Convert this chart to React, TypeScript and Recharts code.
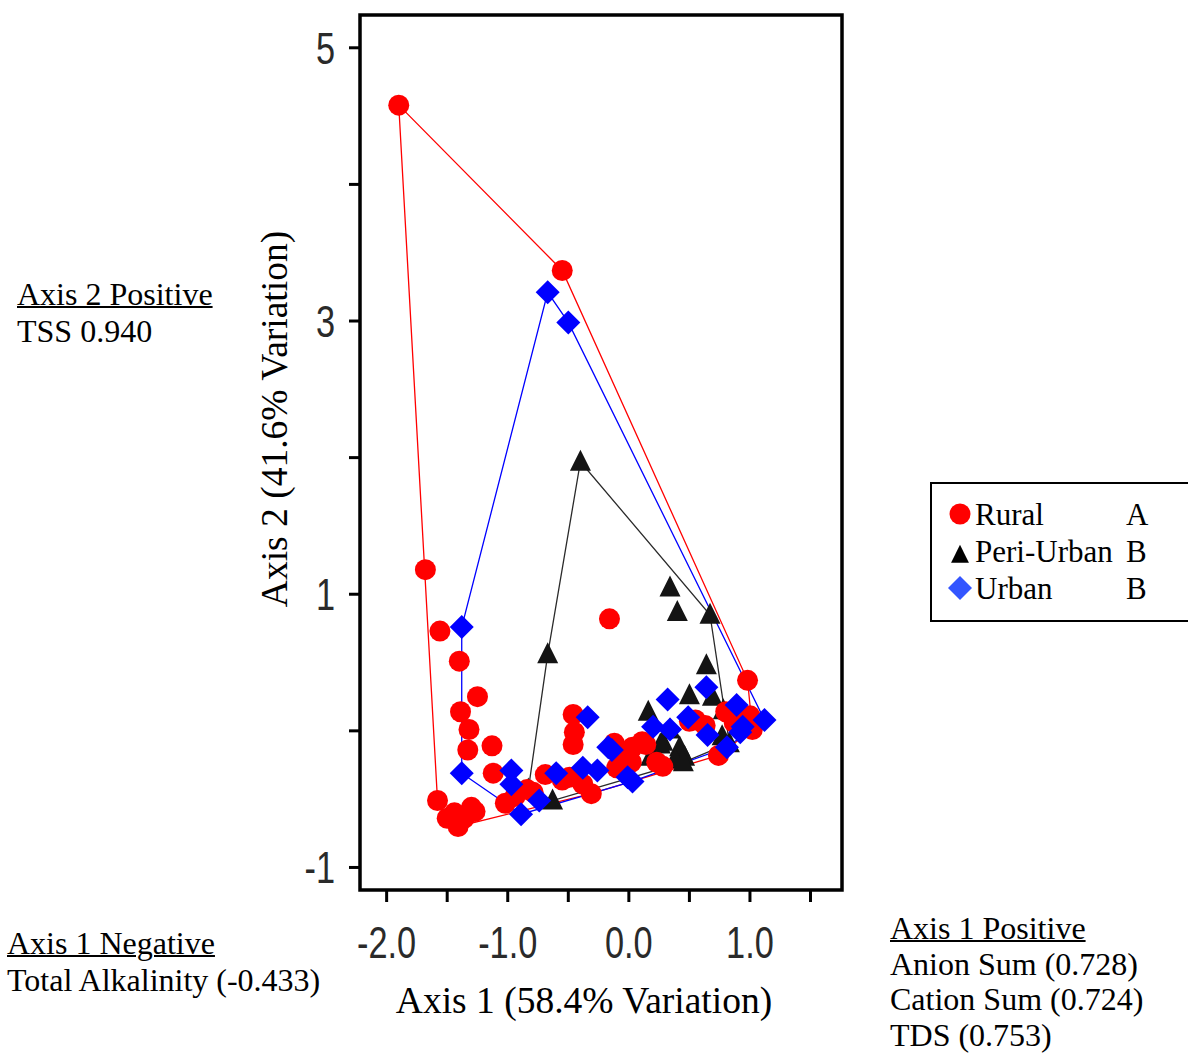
import React from "react";
import { ScatterChart, Scatter, XAxis, YAxis, ReferenceArea } from "recharts";

type Pt = [number, number];

// PCA site scores (Axis 1, Axis 2)
const rural: Pt[] = [
  [-1.9, 4.58], [-0.55, 3.37], [-1.68, 1.18], [-1.56, 0.73], [-1.4, 0.51], [-1.25, 0.25],
  [-1.39, 0.14], [-1.32, 0.01], [-1.33, -0.14], [-1.13, -0.11], [-1.12, -0.31], [-0.16, 0.82],
  [0.98, 0.37], [-1.58, -0.51], [-1.5, -0.64], [-1.36, -0.64], [-1.41, -0.7], [-1.27, -0.59],
  [-1.02, -0.53], [-0.94, -0.48], [-0.79, -0.45], [-0.46, 0.12], [-0.45, -0.01], [-0.46, -0.1],
  [-0.49, -0.34], [-0.38, -0.39], [-0.31, -0.46], [-0.55, -0.36], [-0.12, -0.09], [-0.04, -0.21],
  [0.02, -0.23], [0.14, -0.1], [0.28, -0.26], [0.8, 0.14], [0.87, 0.06], [0.74, -0.18],
  [0.63, 0.04], [1.0, 0.11], [1.02, 0.01], [-0.1, -0.27], [0.23, -0.23], [0.5, 0.07],
  [-0.69, -0.32], [-0.84, -0.43], [-1.44, -0.6], [-1.3, -0.56], [0.03, -0.12], [0.11, -0.08],
  [0.55, 0.08], [0.86, 0.12], [-0.08, -0.26],
];

const periUrban: Pt[] = [
  [-0.4, 1.97], [-0.67, 0.56], [0.34, 1.05], [0.4, 0.87], [0.67, 0.85], [0.64, 0.48],
  [-0.83, -0.43], [-0.63, -0.51], [0.16, 0.14], [0.5, 0.26], [0.69, 0.25], [0.26, -0.1],
  [0.42, -0.12], [0.46, -0.19], [0.77, -0.04], [0.34, 0.01], [0.18, -0.19], [0.38, -0.21],
  [0.83, -0.09], [0.28, -0.08], [0.45, -0.23], [0.78, 0.15],
];

const urban: Pt[] = [
  [-0.67, 3.21], [-0.5, 2.99], [-1.38, 0.76], [-1.38, -0.31], [-0.34, 0.1], [-0.14, -0.14],
  [-0.97, -0.29], [-0.97, -0.39], [-0.74, -0.51], [-0.89, -0.61], [-0.6, -0.31], [-0.38, -0.27],
  [-0.26, -0.29], [-0.01, -0.34], [0.32, 0.23], [0.2, 0.03], [0.34, 0.01], [0.64, 0.32],
  [0.65, -0.03], [0.89, 0.19], [0.94, 0.03], [1.12, 0.08], [-0.17, -0.12], [0.03, -0.37],
  [0.49, 0.1], [0.81, -0.12], [0.92, -0.01],
];

const xTicks = [-2, -1.5, -1, -0.5, 0, 0.5, 1, 1.5];
const yTicks = [-1, 0, 1, 2, 3, 4, 5];
const xDomain: [number, number] = [-2.22, 1.76];
const yDomain: [number, number] = [-1.165, 5.24];

const groups = [
  { name: "Rural", letter: "A", color: "#ff0000", legendColor: "#ff0000", hullColor: "#ff0000", shape: "circle", points: rural },
  { name: "Peri-Urban", letter: "B", color: "#141414", legendColor: "#000000", hullColor: "#2a2a2a", shape: "triangle", points: periUrban },
  { name: "Urban", letter: "B", color: "#0000ff", legendColor: "#3355ff", hullColor: "#0000ff", shape: "diamond", points: urban },
];

const notesLeftTop = ["Axis 2 Positive", "TSS 0.940"];
const notesLeftBottom = ["Axis 1 Negative", "Total Alkalinity (-0.433)"];
const notesRight = ["Axis 1 Positive", "Anion Sum (0.728)", "Cation Sum (0.724)", "TDS (0.753)"];

const serif = "'Liberation Serif', 'Times New Roman', serif";
const sans = "'Liberation Sans', Arial, sans-serif";

function convexHull(pts: Pt[]): Pt[] {
  const s = [...pts].sort((a, b) => a[0] - b[0] || a[1] - b[1]);
  const cross = (o: Pt, a: Pt, b: Pt) => (a[0] - o[0]) * (b[1] - o[1]) - (a[1] - o[1]) * (b[0] - o[0]);
  const lower: Pt[] = [];
  for (const p of s) {
    while (lower.length >= 2 && cross(lower[lower.length - 2], lower[lower.length - 1], p) <= 0) lower.pop();
    lower.push(p);
  }
  const upper: Pt[] = [];
  for (const p of [...s].reverse()) {
    while (upper.length >= 2 && cross(upper[upper.length - 2], upper[upper.length - 1], p) <= 0) upper.pop();
    upper.push(p);
  }
  upper.pop();
  lower.pop();
  const h = lower.concat(upper);
  return [...h, h[0]];
}

function Marker({ shape, cx, cy, fill, size = 1 }: any) {
  if (shape === "circle") return <circle cx={cx} cy={cy} r={10.5 * size} fill={fill} />;
  if (shape === "triangle") {
    const w = 10.5 * size;
    return <polygon points={`${cx},${cy - 12 * size} ${cx - w},${cy + 9 * size} ${cx + w},${cy + 9 * size}`} fill={fill} />;
  }
  const d = 12 * size;
  return <polygon points={`${cx},${cy - d} ${cx + d},${cy} ${cx},${cy + d} ${cx - d},${cy}`} fill={fill} />;
}

function XTick({ x, y, payload }: any) {
  if (!Number.isInteger(payload.value)) return null;
  return (
    <text transform={`translate(${x},${y}) scale(0.78,1)`} textAnchor="middle" dy="0.72em"
      fontFamily={sans} fontSize={44} fill="#2a2a2a">
      {payload.value.toFixed(1)}
    </text>
  );
}

function YTick({ x, y, payload }: any) {
  if (payload.value % 2 === 0) return null;
  return (
    <text transform={`translate(${x},${y}) scale(0.78,1)`} textAnchor="end" dy="0.36em"
      fontFamily={sans} fontSize={44} fill="#2a2a2a">
      {payload.value}
    </text>
  );
}

function XTitle() {
  return (
    <text x={584} y={1013} textAnchor="middle" fontFamily={serif} fontSize={37.5} fill="#000">
      Axis 1 (58.4% Variation)
    </text>
  );
}

function YTitle() {
  return (
    <text transform="translate(287,419) rotate(-90)" textAnchor="middle" fontFamily={serif} fontSize={37.5} fill="#000">
      Axis 2 (41.6% Variation)
    </text>
  );
}

function LegendBox() {
  return (
    <div style={{ position: "absolute", left: 930, top: 482, width: 256, height: 136, border: "2px solid #000",
      background: "#fff", fontFamily: serif, fontSize: 31, color: "#000" }}>
      {groups.map((g, i) => (
        <div key={g.name} style={{ position: "absolute", left: 0, top: 12 + i * 37, height: 37, width: 256, lineHeight: "37px" }}>
          <svg width={30} height={37} style={{ position: "absolute", left: 14, top: 0 }}>
            <Marker shape={g.shape} cx={14} cy={g.shape === "triangle" ? 22 : 18} fill={g.legendColor}
              size={g.shape === "triangle" ? 0.85 : 1} />
          </svg>
          <span style={{ position: "absolute", left: 43 }}>{g.name}</span>
          <span style={{ position: "absolute", left: 194 }}>{g.letter}</span>
        </div>
      ))}
    </div>
  );
}

function Note({ lines, left, top, lh = 36.5 }: { lines: string[]; left: number; top: number; lh?: number }) {
  return (
    <div style={{ position: "absolute", left, top, fontFamily: serif, fontSize: 32, lineHeight: `${lh}px`, color: "#000", whiteSpace: "nowrap" }}>
      {lines.map((t, i) => (
        <div key={t} style={{ textDecoration: i === 0 ? "underline" : "none", textDecorationThickness: 2 }}>{t}</div>
      ))}
    </div>
  );
}

export default function App() {
  return (
    <div style={{ position: "absolute", left: 0, top: 0, width: 1188, height: 1055, background: "#fff", overflow: "hidden" }}>
      <ScatterChart width={1188} height={1055} margin={{ top: 15, right: 346, bottom: 105, left: 240 }}>
        <XAxis type="number" dataKey="x" domain={xDomain} ticks={xTicks} interval={0} allowDataOverflow
          axisLine={false} tickSize={12} tickMargin={24} tickLine={{ stroke: "#000", strokeWidth: 3 }}
          tick={<XTick />} height={60} label={<XTitle />} />
        <YAxis type="number" dataKey="y" domain={yDomain} ticks={yTicks} interval={0} allowDataOverflow
          axisLine={false} tickSize={11} tickMargin={14} tickLine={{ stroke: "#000", strokeWidth: 3 }}
          tick={<YTick />} width={120} label={<YTitle />} />
        {groups.map((g) => (
          <Scatter key={g.name + "-hull"} data={convexHull(g.points).map(([x, y]) => ({ x, y }))}
            line={{ stroke: g.hullColor, strokeWidth: 1.3 }} lineType="joint" shape={() => <g />}
            legendType="none" isAnimationActive={false} />
        ))}
        {[groups[1], groups[0], groups[2]].map((g) => (
          <Scatter key={g.name} name={g.name} data={g.points.map(([x, y]) => ({ x, y }))}
            shape={(p: any) => <Marker shape={g.shape} cx={p.cx} cy={p.cy} fill={g.color} />}
            isAnimationActive={false} />
        ))}
        <ReferenceArea x1={xDomain[0]} x2={xDomain[1]} y1={yDomain[0]} y2={yDomain[1]} ifOverflow="visible"
          fill="none" fillOpacity={0} stroke="#000" strokeWidth={3.5} />
      </ScatterChart>
      <LegendBox />
      <Note lines={notesLeftTop} left={17} top={276} />
      <Note lines={notesLeftBottom} left={7} top={925} />
      <Note lines={notesRight} left={890} top={911} lh={35.5} />
    </div>
  );
}
